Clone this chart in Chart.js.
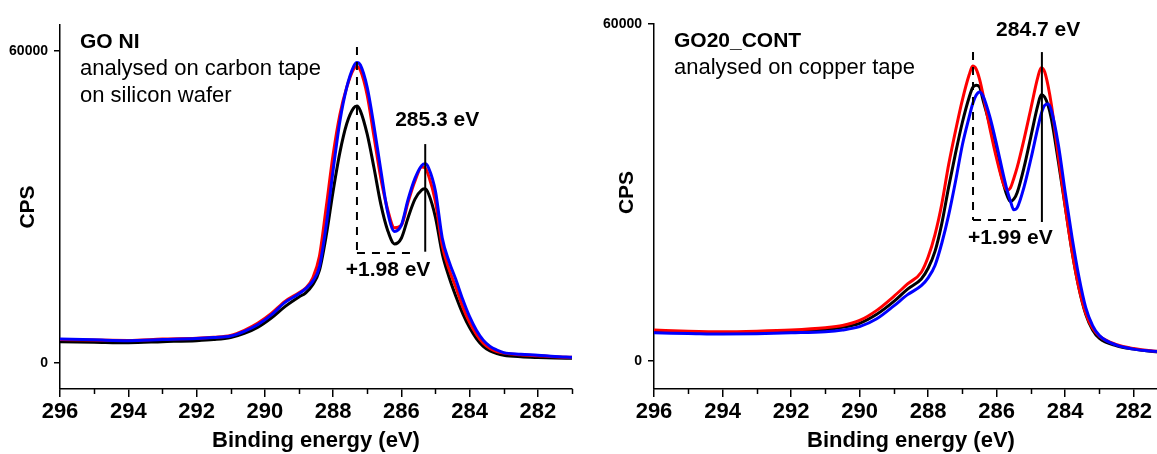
<!DOCTYPE html>
<html>
<head>
<meta charset="utf-8">
<script src="https://cdn.jsdelivr.net/npm/chart.js@4"></script>
<style>
  html, body { margin: 0; padding: 0; overflow: hidden; background: #fff; }
  #left { position: absolute; left: 0; top: 0; }
  #right { position: absolute; left: 580px; top: 0; }
</style>
</head>
<body>
<canvas id="left" width="580" height="454"></canvas>
<canvas id="right" width="588" height="454"></canvas>
<script>
// C 1s spectra, binding energy in eV, intensities in CPS
const leftEnergy = [296, 295, 294, 293, 292, 291.5, 291, 290.6, 290.2, 289.8, 289.4, 289, 288.8, 288.6, 288.4, 288.2, 288, 287.8, 287.6, 287.4, 287.3, 287.2, 287, 286.8, 286.6, 286.4, 286.2, 286, 285.8, 285.6, 285.4, 285.3, 285.2, 285, 284.8, 284.6, 284.4, 284.2, 284, 283.8, 283.6, 283.4, 283.2, 283, 282.5, 282, 281.5, 281]
const leftRed = [4500, 4400, 4350, 4600, 4750, 4950, 5300, 6300, 7700, 9600, 11900, 13500, 14400, 16300, 20500, 30000, 40000, 47800, 53000, 56500, 57000, 56300, 51500, 43500, 35500, 29500, 26000, 26500, 31000, 35000, 37700, 37500, 36000, 31000, 22500, 18000, 14500, 10800, 7800, 5500, 3800, 2800, 2200, 1900, 1600, 1400, 1200, 1100]
const leftBlack = [4100, 4000, 3900, 4100, 4300, 4500, 4900, 5700, 6900, 8700, 10900, 12700, 13500, 15000, 17800, 24500, 33000, 40500, 46000, 49000, 49400, 48500, 44000, 37500, 30500, 25500, 22900, 24000, 28000, 31500, 33300, 33500, 32500, 28000, 21000, 16500, 12800, 9500, 6800, 4700, 3200, 2300, 1800, 1500, 1200, 1050, 950, 900]
const leftBlue = [4600, 4450, 4300, 4500, 4700, 4900, 5200, 6100, 7400, 9300, 11700, 13300, 14300, 15700, 18500, 26500, 37000, 46500, 53000, 57000, 57800, 57300, 53000, 45500, 37000, 29000, 25300, 26500, 31500, 35500, 38000, 38300, 37500, 33000, 24000, 19500, 16000, 12200, 8900, 6300, 4400, 3200, 2500, 2000, 1700, 1500, 1250, 1100]

const rightEnergy = [296, 295, 294, 293, 292, 291, 290.5, 290, 289.5, 289, 288.6, 288.2, 288, 287.8, 287.6, 287.4, 287.2, 287, 286.8, 286.7, 286.6, 286.5, 286.4, 286.2, 286, 285.8, 285.7, 285.6, 285.5, 285.4, 285.2, 285, 284.8, 284.7, 284.6, 284.5, 284.4, 284.2, 284, 283.8, 283.6, 283.4, 283.2, 283, 282.5, 282, 281.5, 281]
const rightRed = [5500, 5300, 5200, 5300, 5500, 5900, 6300, 7200, 9000, 11500, 13700, 15800, 18500, 22500, 28000, 35000, 41000, 46500, 51000, 52500, 52000, 50200, 47500, 41500, 36000, 31500, 30400, 30800, 32500, 34500, 39500, 45000, 50500, 52200, 51500, 49000, 45500, 36500, 27500, 19500, 13000, 8500, 5800, 4400, 2900, 2200, 1800, 1600]
const rightBlack = [5200, 5100, 5000, 5050, 5250, 5600, 6000, 6700, 8300, 10600, 12800, 14600, 16500, 19500, 24500, 31000, 37000, 42500, 47000, 48700, 49100, 48800, 46500, 42000, 36500, 31500, 29500, 28400, 28800, 30000, 34500, 40000, 45500, 47400, 47000, 45500, 43000, 35500, 27500, 19500, 13000, 8300, 5500, 4000, 2700, 2100, 1700, 1500]
const rightBlue = [5000, 4900, 4800, 4850, 5000, 5200, 5500, 6100, 7500, 9800, 11800, 13400, 14800, 17000, 21000, 26000, 32000, 38500, 43500, 45800, 47300, 47900, 47200, 43500, 38500, 33000, 30500, 28500, 26900, 27300, 31000, 36000, 41500, 44000, 45500, 45750, 44500, 38500, 30000, 22000, 15000, 9500, 6300, 4500, 2800, 2100, 1750, 1550]

const xMajorTicks = [296, 294, 292, 290, 288, 286, 284, 282]
const xMinorTicks = [295, 293, 291, 289, 287, 285, 283, 281]
const yTicks = [0, 60000]

// peak guides in data units: [x1, y1, x2, y2, dashed]
const leftGuides = [
  [287.3, 60770, 287.3, 21150, true],
  [287.3, 21150, 285.65, 21150, true],
  [285.3, 42100, 285.3, 21400, false]
]
const leftNotes = [['285.3 eV', 284.95, 46700], ['+1.98 eV', 286.39, 17900]]
const rightGuides = [
  [286.69, 55000, 286.69, 25090, true],
  [286.69, 25090, 285.12, 25090, true],
  [284.68, 55000, 284.68, 24740, false]
]
const rightNotes = [['284.7 eV', 284.79, 58930], ['+1.99 eV', 285.6, 21890]]
const leftTitle = ['GO NI', 'analysed on carbon tape', 'on silicon wafer']
const rightTitle = ['GO20_CONT', 'analysed on copper tape']

const FONT = '"Liberation Sans", Arial, Helvetica, sans-serif'
Chart.defaults.font.family = FONT
Chart.defaults.color = '#000'

const decorations = {
  id: 'decorations',
  afterDraw(chart, args, opts) {
    const {ctx} = chart
    const x = chart.scales.x
    const y = chart.scales.y
    ctx.save()
    // minor ticks on the energy axis
    ctx.strokeStyle = '#000'
    ctx.lineWidth = 1.5
    xMinorTicks.forEach(v => {
      const px = Math.round(x.getPixelForValue(v)) + 0.5
      ctx.beginPath()
      ctx.moveTo(px, y.bottom)
      ctx.lineTo(px, y.bottom + 5)
      ctx.stroke()
    })
    // peak position guides
    ctx.lineWidth = 2
    opts.guides.forEach(g => {
      ctx.setLineDash(g[4] ? [8, 7] : [])
      ctx.beginPath()
      ctx.moveTo(x.getPixelForValue(g[0]), y.getPixelForValue(g[1]))
      ctx.lineTo(x.getPixelForValue(g[2]), y.getPixelForValue(g[3]))
      ctx.stroke()
    })
    ctx.setLineDash([])
    ctx.fillStyle = '#000'
    ctx.font = 'bold 21px ' + FONT
    ctx.textAlign = 'center'
    ctx.textBaseline = 'middle'
    opts.notes.forEach(n => ctx.fillText(n[0], x.getPixelForValue(n[1]), y.getPixelForValue(n[2])))
    // sample label
    ctx.textAlign = 'left'
    ctx.textBaseline = 'alphabetic'
    opts.title.forEach((t, i) => {
      ctx.font = (i === 0 ? 'bold 21px ' : '22px ') + FONT
      ctx.fillText(t, x.left + 20, y.top + 23 + i * 27)
    })
    // CPS axis title, centred on the 0..60000 span
    ctx.font = 'bold 21px ' + FONT
    ctx.textAlign = 'center'
    ctx.textBaseline = 'middle'
    ctx.translate(opts.cpsX, y.getPixelForValue(30000))
    ctx.rotate(-Math.PI / 2)
    ctx.fillText('CPS', 0, 0)
    ctx.restore()
  }
}

function makePanel(id, energy, red, black, blue, yMax, yWidth, padTop, padRight, extra) {
  const pts = arr => energy.map((e, i) => ({x: e, y: arr[i]}))
  const line = (label, data, color) => ({
    label: label, data: pts(data), borderColor: color, backgroundColor: color,
    borderWidth: 3, pointRadius: 0, cubicInterpolationMode: 'monotone', fill: false
  })
  return new Chart(document.getElementById(id), {
    type: 'line',
    data: {
      datasets: [
        line('blue', blue, '#0000ff'),
        line('red', red, '#ff0000'),
        line('black', black, '#000000')
      ]
    },
    options: {
      responsive: false,
      animation: false,
      layout: { padding: { top: padTop, right: padRight, bottom: 0, left: 0 } },
      plugins: {
        legend: { display: false },
        tooltip: { enabled: false },
        decorations: extra
      },
      scales: {
        x: {
          type: 'linear', reverse: true, min: 281, max: 296,
          afterBuildTicks: s => { s.ticks = xMajorTicks.map(v => ({value: v})) },
          afterFit: s => { s.height = 65 },
          border: { color: '#000', width: 1.5 },
          grid: { drawOnChartArea: false, color: '#000', tickLength: 8, lineWidth: 1.5 },
          ticks: { color: '#000', font: { size: 22, weight: 'bold' }, padding: 2, maxRotation: 0, autoSkip: false,
                   callback: v => String(v) },
          title: { display: true, text: 'Binding energy (eV)', color: '#000', font: { size: 22, weight: 'bold' }, padding: { top: 0, bottom: 0 } }
        },
        y: {
          min: -5000, max: yMax,
          afterBuildTicks: s => { s.ticks = yTicks.map(v => ({value: v})) },
          afterFit: s => { s.width = yWidth },
          border: { color: '#000', width: 1.5 },
          grid: { drawOnChartArea: false, color: '#000', tickLength: 6, lineWidth: 1.5 },
          ticks: { color: '#000', font: { size: 14, weight: 'bold' }, padding: 6, callback: v => String(v) }
        }
      }
    },
    plugins: [decorations]
  })
}

makePanel('left', leftEnergy, leftRed, leftBlack, leftBlue, 65000, 60, 25, 8,
  { guides: leftGuides, notes: leftNotes, title: leftTitle, cpsX: 28 })
makePanel('right', rightEnergy, rightRed, rightBlack, rightBlue, 60000, 74, 24, 0,
  { guides: rightGuides, notes: rightNotes, title: rightTitle, cpsX: 47 })
</script>
</body>
</html>
